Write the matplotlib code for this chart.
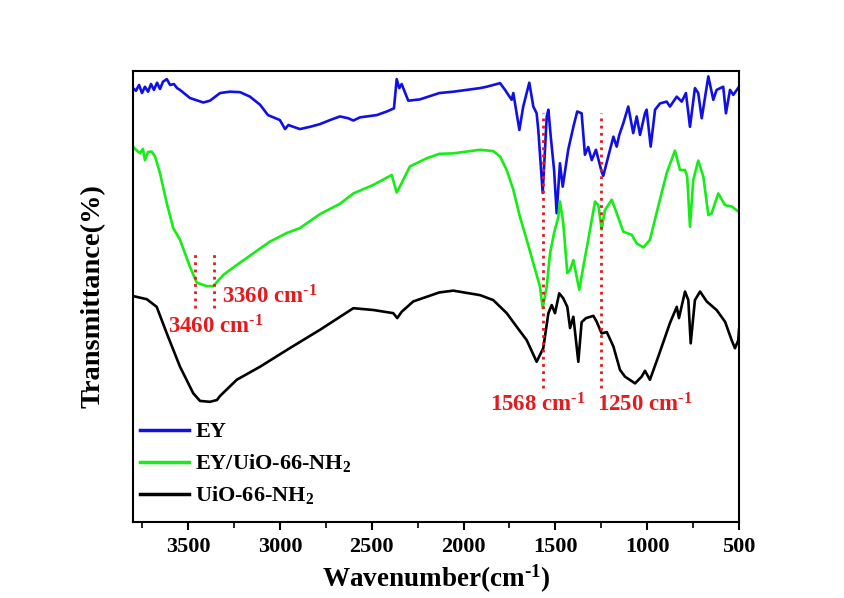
import matplotlib
matplotlib.use("Agg")
import matplotlib.pyplot as plt
from matplotlib.ticker import MultipleLocator

plt.rcParams["font.family"] = ["Liberation Serif", "DejaVu Serif"]
plt.rcParams["font.weight"] = "bold"
plt.rcParams["mathtext.fontset"] = "custom"
plt.rcParams["mathtext.rm"] = "Liberation Serif:bold"
plt.rcParams["mathtext.it"] = "Liberation Serif:bold"
plt.rcParams["mathtext.bf"] = "Liberation Serif:bold"

# FTIR spectra (wavenumber in cm-1, transmittance in arbitrary offset %)
ey_wn = [3800, 3784, 3767, 3751, 3735, 3718, 3702, 3686, 3669, 3653, 3637, 3616, 3598, 3577, 3560, 3544,
         3490, 3417, 3381, 3326, 3272, 3217, 3163, 3108, 3065, 3000,
         2972, 2954, 2927, 2891, 2836, 2782, 2727, 2673, 2628, 2600,
         2564, 2473, 2418, 2379, 2364, 2350, 2337, 2301, 2237, 2132,
         2056, 1910, 1874, 1801, 1774, 1738, 1729, 1696, 1675, 1642,
         1620, 1602, 1593, 1569, 1547, 1538, 1525, 1507, 1493, 1475,
         1460, 1430, 1402, 1381, 1357, 1339, 1321, 1302, 1279, 1248,
         1239, 1212, 1184, 1166, 1152, 1130, 1103, 1076, 1057, 1039,
         1012, 1003, 981, 957, 930, 894, 876, 839, 812, 789,
         767, 740, 722, 703, 667, 640, 622, 586, 571, 549,
         531, 500]
ey_t = [96.4, 95.8, 97.1, 95.3, 96.7, 95.6, 97.3, 96.0, 97.6, 96.2, 97.8, 98.4, 97.1, 97.3, 96.4, 96.0,
        94.2, 93.2, 93.6, 95.3, 95.6, 95.5, 94.5, 92.7, 90.4, 89.3,
        87.3, 88.2, 87.8, 87.3, 87.8, 88.4, 89.3, 90.1, 89.7, 89.2,
        89.9, 90.4, 91.2, 91.9, 98.4, 96.4, 97.3, 93.6, 93.9, 95.3,
        95.6, 96.4, 96.7, 97.5, 96.0, 93.8, 95.3, 87.1, 92.3, 97.6,
        92.3, 90.8, 87.1, 73.1, 90.1, 91.6, 85.6, 78.2, 68.6, 79.7,
        74.5, 82.7, 87.8, 91.2, 90.8, 81.6, 83.3, 80.4, 82.7, 77.8,
        76.9, 81.2, 85.6, 83.4, 86.0, 88.6, 92.3, 86.4, 90.1, 86.0,
        90.8, 91.6, 83.4, 91.6, 93.0, 93.4, 92.3, 94.5, 93.4, 95.3,
        87.8, 96.4, 95.3, 89.7, 99.0, 93.8, 96.0, 96.7, 90.8, 96.0,
        94.9, 96.7]

composite_wn = [3800, 3784, 3762, 3746, 3735, 3718, 3698, 3680, 3653, 3616,
                3581, 3544, 3490, 3453, 3399, 3363, 3308, 3235, 3145, 3054,
                2963, 2891, 2782, 2673, 2600, 2491, 2391, 2364, 2337, 2292,
                2201, 2132, 2056, 1910, 1838, 1801, 1765, 1729, 1693, 1656,
                1620, 1584, 1569, 1547, 1529, 1507, 1484, 1475, 1457, 1435,
                1420, 1402, 1370, 1348, 1321, 1284, 1266, 1248, 1230, 1193,
                1166, 1130, 1084, 1057, 1021, 985, 940, 894, 849, 821,
                794, 782, 767, 749, 722, 694, 667, 649, 613, 576,
                540, 504]
composite_t = [83.4, 82.7, 81.9, 82.9, 80.4, 82.2, 82.3, 81.2, 77.5, 70.8,
               65.3, 62.7, 56.7, 53.2, 52.4, 52.4, 54.9, 57.1, 59.7, 62.3,
               64.2, 65.3, 68.4, 70.7, 73.0, 74.9, 77.1, 73.2, 75.3, 79.0,
               80.8, 81.8, 81.9, 82.7, 82.4, 81.2, 78.2, 73.8, 67.8, 62.7,
               57.5, 52.3, 47.5, 52.3, 59.7, 64.2, 67.8, 71.2, 66.4, 55.3,
               56.0, 58.2, 51.6, 56.7, 62.7, 71.2, 70.4, 65.0, 69.3, 71.6,
               68.6, 64.5, 63.8, 61.9, 61.0, 62.7, 70.1, 77.5, 82.5, 78.2,
               78.2, 76.7, 65.6, 76.0, 80.3, 76.7, 68.2, 68.6, 73.0, 70.4,
               70.1, 69.0]

uio_wn = [3800, 3725, 3671, 3616, 3544, 3472, 3435, 3381, 3343, 3326,
          3235, 3108, 2963, 2782, 2600, 2491, 2383, 2361, 2337, 2274,
          2132, 2056, 1910, 1838, 1765, 1711, 1656, 1602, 1566, 1538,
          1520, 1502, 1479, 1457, 1435, 1420, 1402, 1375, 1357, 1333,
          1293, 1275, 1248, 1220, 1184, 1148, 1121, 1066, 1030, 1012,
          985, 940, 876, 839, 827, 794, 776, 763, 740, 712,
          676, 622, 576, 540, 522, 504, 500]
uio_t = [50.2, 49.5, 47.8, 41.9, 34.5, 28.6, 26.9, 26.7, 27.1, 28.0,
         31.6, 34.5, 38.2, 42.7, 47.5, 47.1, 46.4, 45.3, 46.7, 49.0,
         51.0, 51.4, 50.4, 49.3, 46.4, 43.4, 40.4, 35.6, 38.6, 46.4,
         48.2, 46.4, 50.8, 49.7, 47.8, 43.1, 45.6, 35.6, 44.4, 45.3,
         45.8, 44.5, 41.9, 42.2, 39.0, 33.8, 32.3, 30.8, 32.3, 33.6,
         31.6, 36.7, 44.2, 47.8, 45.3, 51.2, 49.3, 39.7, 49.3, 51.2,
         49.0, 47.1, 44.5, 40.4, 38.6, 40.4, 42.7]

series_labels = ["EY", r"EY/UiO-66-NH$_{2}$", r"UiO-66-NH$_{2}$"]
series_colors = ["#1010e6", "#14ee14", "#000000"]

# Marked bands
oh_bands = [3460, 3360]
oh_span = (47.5, 60.1)
ring_bands = [1568, 1250]
ring_span = (29.8, 90.9)
band_labels = [(3360, 3317, 50.1), (3460, 3609, 43.4), (1568, 1856, 26.0), (1250, 1275, 26.0)]
red = "#e41a1c"
inv_cm = r"cm$^{\text{-}1}$"

fig = plt.figure(figsize=(8.45, 5.98), dpi=100)
ax = fig.add_axes([133 / 845, 76 / 598, 606 / 845, 451 / 598])

for wn, t, lab, col in zip([ey_wn, composite_wn, uio_wn], [ey_t, composite_t, uio_t],
                           series_labels, series_colors):
    ax.plot(wn, t, color=col, lw=1.9, label=lab, solid_joinstyle="round")

for b in oh_bands:
    ax.vlines(b, *oh_span, colors=red, linestyles=(0, (1, 1.6)), lw=2.0)
for b in ring_bands:
    ax.vlines(b, *ring_span, colors=red, linestyles=(0, (1, 1.6)), lw=2.0)

for val, x, y in band_labels:
    ax.text(x, y, f"{val} " + inv_cm, color=red, fontsize=16.5, fontweight="bold",
            ha="left", va="center")

ax.set_xlim(3800, 500)
ax.set_ylim(0, 100.2)
ax.xaxis.set_major_locator(MultipleLocator(500))
ax.xaxis.set_minor_locator(MultipleLocator(250))
ax.tick_params(axis="x", which="major", direction="out", length=6, width=1.5,
               labelsize=16, pad=5)
ax.tick_params(axis="x", which="minor", direction="out", length=4, width=1.2)
ax.set_yticks([])
for lbl in ax.get_xticklabels():
    lbl.set_fontweight("bold")
for sp in ax.spines.values():
    sp.set_linewidth(1.5)

ax.set_xlabel("Wavenumber(" + inv_cm + ")", fontsize=19.5, fontweight="bold", labelpad=4)
ax.set_ylabel("Transmittance(%)", fontsize=20.5, fontweight="bold", labelpad=20)

leg = ax.legend(loc="lower left", bbox_to_anchor=(0.0, 0.02), frameon=False,
                prop={"size": 16, "weight": "bold"}, handlelength=2.2,
                handletextpad=0.3, labelspacing=0.45, borderaxespad=0.0,
                borderpad=0.3)
for h in leg.get_lines():
    h.set_linewidth(2.5)

fig.savefig("out.png", dpi=100)
